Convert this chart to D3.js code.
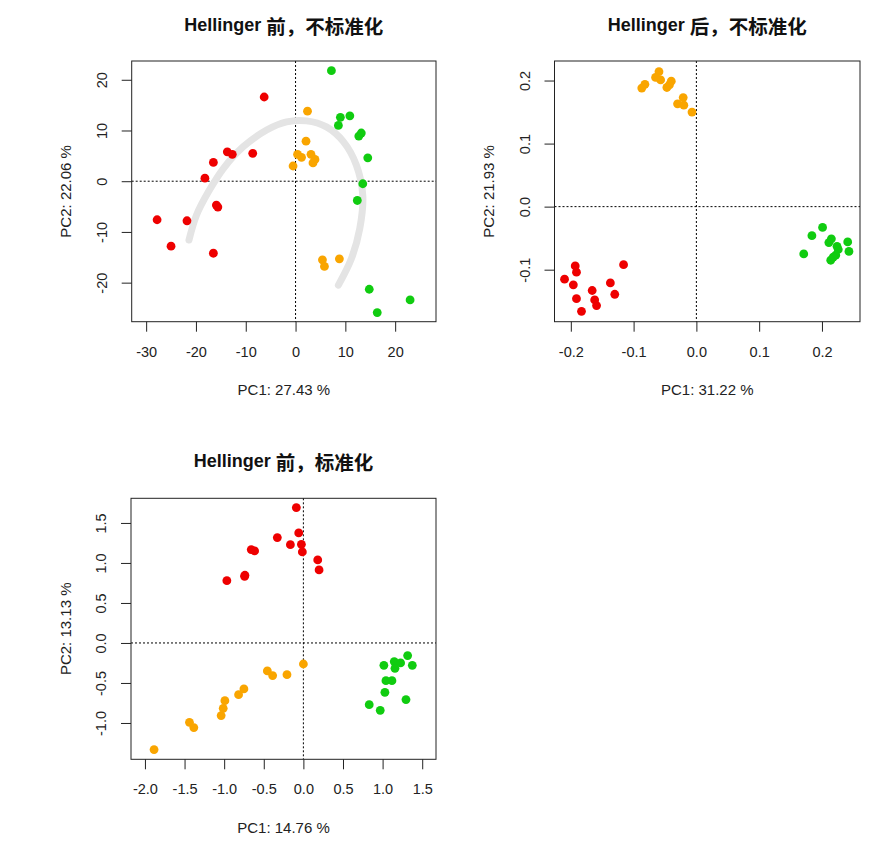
<!DOCTYPE html>
<html>
<head>
<meta charset="utf-8">
<script src="https://cdn.jsdelivr.net/npm/d3@7"></script>
<style>
  html, body { margin: 0; padding: 0; background: #ffffff; }
  svg { display: block; }
</style>
</head>
<body>
<svg id="chart" width="891" height="847"></svg>
<script>
// ---------------- DATA ----------------
const titles = ["Hellinger 前，不标准化", "Hellinger 后，不标准化", "Hellinger 前，标准化"];
const xLabels = ["PC1: 27.43 %", "PC1: 31.22 %", "PC1: 14.76 %"];
const yLabels = ["PC2: 22.06 %", "PC2: 21.93 %", "PC2: 13.13 %"];

const p1XTicks = [-30, -20, -10, 0, 10, 20];
const p1YTicks = [-20, -10, 0, 10, 20];
const p2XTicks = [-0.2, -0.1, 0.0, 0.1, 0.2];
const p2YTicks = [-0.1, 0.0, 0.1, 0.2];
const p3XTicks = [-2.0, -1.5, -1.0, -0.5, 0.0, 0.5, 1.0, 1.5];
const p3YTicks = [-1.0, -0.5, 0.0, 0.5, 1.0, 1.5];

// Panel 1 : Hellinger before, not standardised
const p1Red = [[-6.3,16.6],[-13.7,5.8],[-12.7,5.3],[-8.6,5.5],[-16.5,3.7],[-18.2,0.6],
  [-15.9,-4.7],[-15.6,-5.1],[-27.8,-7.6],[-21.8,-7.8],[-25.0,-12.8],[-16.5,-14.2]];
const p1Orange = [[2.4,13.8],[2.1,7.9],[0.4,5.3],[1.2,4.7],[3.1,5.3],[3.9,4.3],
  [3.5,3.6],[-0.5,3.0],[5.4,-15.5],[5.8,-16.8],[8.8,-15.3]];
const p1Green = [[7.2,21.8],[9.0,12.6],[8.6,11.0],[10.9,12.9],[12.7,8.9],[13.2,9.5],
  [14.5,4.6],[13.5,-0.5],[12.4,-3.8],[14.8,-21.3],[23.0,-23.4],[16.4,-25.9]];
const p1Arc = [[-21.4,-11.6],[-19.9,-6.7],[-17.5,-2.1],[-14.5,2.5],[-10.5,6.8],[-5.8,10.1],
  [-1.8,11.7],[2.2,11.9],[6.2,10.7],[9.6,7.8],[12.2,3.2],[13.5,-2.8],[12.9,-9.3],[11.2,-15.3],[8.6,-20.5]];

// Panel 2 : Hellinger after, not standardised
const p2Red = [[-0.193,-0.094],[-0.191,-0.104],[-0.116,-0.092],[-0.210,-0.115],[-0.196,-0.124],
  [-0.137,-0.121],[-0.166,-0.133],[-0.130,-0.139],[-0.191,-0.146],[-0.162,-0.148],[-0.159,-0.157],[-0.183,-0.166]];
const p2Orange = [[-0.0596,0.214],[-0.065,0.205],[-0.057,0.201],[-0.040,0.199],[-0.043,0.193],
  [-0.047,0.189],[-0.082,0.194],[-0.087,0.188],[-0.021,0.173],[-0.030,0.163],[-0.020,0.161],[-0.007,0.150]];
const p2Green = [[0.201,-0.033],[0.184,-0.046],[0.215,-0.051],[0.211,-0.057],[0.241,-0.056],
  [0.224,-0.063],[0.226,-0.068],[0.243,-0.071],[0.171,-0.075],[0.222,-0.077],[0.218,-0.080],[0.214,-0.085]];

// Panel 3 : Hellinger before, standardised
const p3Red = [[-0.089,1.692],[-0.059,1.375],[-0.329,1.317],[-0.164,1.229],[-0.025,1.233],
  [-0.013,1.138],[-0.658,1.167],[-0.616,1.150],[0.181,1.038],[0.198,0.913],[-0.738,0.846],[-0.742,0.833],[-0.966,0.779]];
const p3Orange = [[0.0,-0.263],[-0.207,-0.396],[-0.455,-0.350],[-0.388,-0.408],[-0.751,-0.575],
  [-0.818,-0.646],[-0.991,-0.721],[-1.012,-0.817],[-1.038,-0.908],[-1.438,-0.992],[-1.383,-1.058],[-1.885,-1.333]];
const p3Green = [[1.316,-0.158],[1.016,-0.279],[1.147,-0.233],[1.227,-0.250],[1.156,-0.317],
  [1.375,-0.279],[1.042,-0.471],[1.118,-0.471],[1.029,-0.617],[1.295,-0.708],[0.831,-0.771],[0.970,-0.842]];

// ---------------- LAYOUT / STYLE ----------------
const colors = { red: "#ee0000", orange: "#f9a500", green: "#10cc10" };
const panels = [
  { box: [131.7, 61, 436, 321.7], xd: [-32.9, 28.2], yd: [23.7, -27.7], xt: p1XTicks, yt: p1YTicks,
    fmt: d3.format("d"), groups: [[p1Red,"red"],[p1Orange,"orange"],[p1Green,"green"]], arc: p1Arc,
    title: titles[0], xl: xLabels[0], yl: yLabels[0], titleY: 25 },
  { box: [554.5, 61, 860, 321.7], xd: [-0.226, 0.2606], yd: [0.231, -0.1825], xt: p2XTicks, yt: p2YTicks,
    fmt: d3.format(".1f"), groups: [[p2Red,"red"],[p2Orange,"orange"],[p2Green,"green"]], arc: null,
    title: titles[1], xl: xLabels[1], yl: yLabels[1], titleY: 25 },
  { box: [131, 498.3, 436, 759.3], xd: [-2.176, 1.674], yd: [1.808, -1.454], xt: p3XTicks, yt: p3YTicks,
    fmt: d3.format(".1f"), groups: [[p3Red,"red"],[p3Orange,"orange"],[p3Green,"green"]], arc: null,
    title: titles[2], xl: xLabels[2], yl: yLabels[2], titleY: 461 }
];

const svg = d3.select("#chart");
const FONT = "'Liberation Sans', Arial, 'Noto Sans CJK SC', sans-serif";
const fmtMinus = f => (d => f(d).replace("−", "-"));

panels.forEach(p => {
  const [L, T, R, B] = p.box;
  const x = d3.scaleLinear().domain(p.xd).range([L, R]);
  const y = d3.scaleLinear().domain(p.yd).range([T, B]);
  const g = svg.append("g");

  // title
  const parts = p.title.split(" ");
  const t = g.append("text")
    .attr("x", (L + R) / 2).attr("y", p.titleY)
    .attr("text-anchor", "middle").attr("dominant-baseline", "central")
    .attr("font-weight", "bold").attr("fill", "#111");
  t.append("tspan").attr("font-family", FONT).attr("font-size", "18px").text(parts[0] + " ");
  t.append("tspan").attr("font-family", "'Noto Sans CJK SC', sans-serif").attr("font-size", "19.5px").text(parts[1]);

  // zero lines
  g.append("line").attr("x1", L).attr("x2", R).attr("y1", y(0)).attr("y2", y(0))
    .attr("stroke", "#000").attr("stroke-width", 1).attr("stroke-dasharray", "2,2");
  g.append("line").attr("x1", x(0)).attr("x2", x(0)).attr("y1", T).attr("y2", B)
    .attr("stroke", "#000").attr("stroke-width", 1).attr("stroke-dasharray", "2,2");

  // arc
  if (p.arc) {
    const line = d3.line().x(d => x(d[0])).y(d => y(d[1])).curve(d3.curveCatmullRom);
    g.append("path").attr("d", line(p.arc)).attr("fill", "none")
      .attr("stroke", "#e4e4e4").attr("stroke-width", 7).attr("stroke-linecap", "round");
  }

  // points
  p.groups.forEach(([pts, c]) => {
    g.selectAll(null).data(pts).enter().append("circle")
      .attr("cx", d => x(d[0])).attr("cy", d => y(d[1])).attr("r", 4.4)
      .attr("fill", colors[c]);
  });

  // box
  g.append("rect").attr("x", L).attr("y", T).attr("width", R - L).attr("height", B - T)
    .attr("fill", "none").attr("stroke", "#222").attr("stroke-width", 1);

  // x axis
  const xa = d3.axisBottom(x).tickValues(p.xt).tickSize(10).tickPadding(0).tickFormat(fmtMinus(p.fmt));
  const xg = g.append("g").attr("transform", `translate(0,${B})`).call(xa);
  xg.select(".domain").remove();
  xg.selectAll(".tick line").attr("stroke", "#222");
  xg.selectAll(".tick text").attr("y", 30).attr("dy", null).attr("dominant-baseline", "central")
    .attr("font-family", FONT).attr("font-size", "14.5px").attr("fill", "#222");

  // y axis
  const ya = d3.axisLeft(y).tickValues(p.yt).tickSize(10).tickPadding(0).tickFormat(fmtMinus(p.fmt));
  const yg = g.append("g").attr("transform", `translate(${L},0)`).call(ya);
  yg.select(".domain").remove();
  yg.selectAll(".tick line").attr("stroke", "#222");
  yg.selectAll(".tick text").attr("x", null).attr("dy", null)
    .attr("transform", "translate(-30,0) rotate(-90)")
    .attr("text-anchor", "middle").attr("dominant-baseline", "central")
    .attr("font-family", FONT).attr("font-size", "14.5px").attr("fill", "#222");

  // axis labels
  g.append("text").attr("x", (L + R) / 2).attr("y", B + 68)
    .attr("text-anchor", "middle").attr("dominant-baseline", "central")
    .attr("font-family", FONT).attr("font-size", "15px").attr("fill", "#222").text(p.xl);
  g.append("text").attr("transform", `translate(${L - 66},${(T + B) / 2}) rotate(-90)`)
    .attr("text-anchor", "middle").attr("dominant-baseline", "central")
    .attr("font-family", FONT).attr("font-size", "15px").attr("fill", "#222").text(p.yl);
});
</script>
</body>
</html>
